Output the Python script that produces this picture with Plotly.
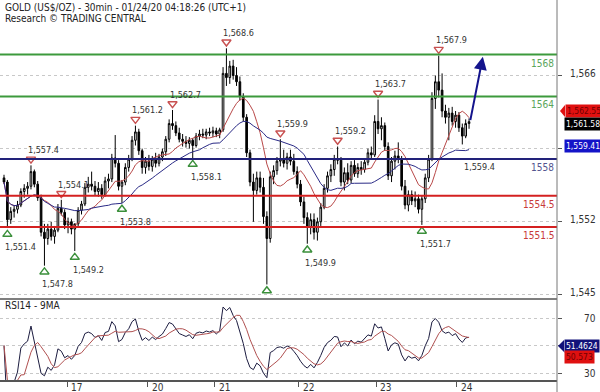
import plotly.graph_objects as go
import pandas as pd

# ---------------- data (hourly-style bars) ----------------
opens = [1556.2,1555.8,1552.2,1553.0,1553.2,1553.6,1554.9,1555.2,1555.4,1556.8,
         1555.6,1554.3,1551.0,1550.4,1551.3,1550.6,1551.2,1553.3,1552.9,1551.7,
         1552.0,1551.3,1551.8,1553.1,1553.7,1555.3,1555.6,1555.4,1554.9,1555.2,
         1554.6,1555.9,1556.1,1558.1,1557.6,1555.4,1555.8,1557.2,1558.0,1559.8,
         1560.6,1558.8,1557.2,1557.8,1557.3,1558.0,1557.6,1558.2,1558.7,1559.9,
         1561.4,1561.2,1560.5,1559.9,1559.7,1559.5,1559.8,1559.3,1560.2,1560.4,
         1560.3,1560.6,1560.5,1560.7,1560.4,1560.8,1566.2,1565.8,1566.9,1566.0,
         1565.4,1564.0,1562.0,1558.6,1555.8,1555.0,1556.2,1555.3,1552.5,1550.4,
         1556.3,1556.9,1557.8,1558.0,1557.6,1558.2,1557.8,1556.8,1555.6,1553.9,
         1552.4,1551.5,1552.2,1551.0,1552.0,1553.4,1555.2,1556.4,1557.0,1558.0,
         1557.9,1555.8,1556.7,1556.0,1557.4,1556.6,1557.2,1557.0,1557.7,1558.6,
         1558.4,1561.6,1560.9,1561.2,1559.2,1556.4,1557.8,1558.3,1558.0,1555.4,
         1553.6,1554.6,1554.0,1554.2,1553.2,1554.2,1556.2,1558.0,1563.8,1565.4,
         1564.6,1562.6,1562.0,1562.4,1561.6,1562.2,1561.0,1560.2,1561.4]
highs = [1556.5,1556.0,1553.4,1553.6,1554.0,1555.2,1555.6,1555.8,1557.4,1557.0,
         1555.9,1554.6,1551.8,1551.8,1552.0,1551.6,1553.7,1554.1,1553.2,1552.4,
         1552.3,1551.6,1553.4,1554.0,1555.7,1556.3,1556.8,1555.9,1555.8,1555.6,
         1556.3,1556.6,1558.5,1560.3,1557.9,1556.0,1557.6,1558.4,1560.2,1561.2,
         1560.9,1559.0,1558.2,1558.4,1558.3,1558.6,1558.5,1559.0,1560.2,1561.8,
         1562.7,1561.6,1561.0,1560.4,1560.2,1560.1,1560.0,1560.5,1560.8,1560.9,
         1560.9,1561.0,1561.1,1561.0,1561.0,1566.8,1568.6,1567.4,1567.5,1566.8,
         1565.9,1564.3,1562.3,1558.9,1556.6,1556.8,1556.8,1556.2,1553.0,1556.8,
         1557.4,1558.2,1559.9,1558.9,1558.6,1558.9,1558.5,1557.3,1556.0,1554.4,
         1552.9,1552.8,1552.8,1552.4,1553.8,1555.6,1556.8,1557.5,1558.4,1559.2,
         1558.2,1557.2,1557.6,1557.8,1557.9,1557.6,1557.8,1558.0,1559.0,1559.2,
         1562.2,1563.7,1562.0,1561.5,1559.6,1558.2,1558.8,1559.6,1558.3,1556.0,
         1555.0,1555.0,1554.9,1554.6,1554.5,1556.6,1558.4,1564.4,1566.0,1567.9,
         1566.2,1563.2,1562.9,1563.0,1562.6,1562.5,1561.4,1561.8,1561.9]
lows = [1555.6,1551.4,1551.8,1552.4,1552.8,1553.4,1554.3,1554.6,1555.1,1555.3,
        1554.0,1550.6,1547.8,1549.8,1550.2,1549.9,1551.0,1552.6,1551.3,1550.9,
        1550.8,1549.2,1551.5,1552.7,1553.5,1554.8,1555.0,1554.5,1554.4,1554.2,
        1554.4,1555.2,1555.8,1557.2,1555.0,1553.8,1555.5,1556.8,1557.8,1559.3,
        1558.4,1556.6,1556.6,1556.9,1556.8,1557.2,1557.3,1557.8,1558.3,1559.6,
        1560.8,1560.2,1559.6,1559.2,1559.1,1559.0,1558.1,1559.1,1559.8,1560.0,
        1559.9,1560.2,1560.1,1560.1,1560.0,1560.6,1565.0,1565.2,1565.6,1565.0,
        1563.6,1561.6,1558.2,1555.4,1552.0,1554.6,1554.8,1551.8,1546.0,1550.0,
        1555.6,1556.5,1557.3,1557.2,1557.0,1557.4,1556.5,1555.2,1553.5,1551.8,
        1549.9,1550.8,1550.3,1550.2,1551.6,1553.2,1554.8,1555.8,1556.4,1557.5,
        1555.4,1555.0,1555.6,1555.7,1556.3,1556.2,1556.5,1556.7,1557.4,1558.0,
        1558.2,1560.4,1559.8,1558.8,1556.0,1555.8,1557.0,1557.6,1555.0,1553.2,
        1553.0,1553.6,1553.4,1552.8,1551.7,1553.8,1555.8,1557.8,1562.8,1563.9,
        1562.0,1561.4,1559.8,1561.2,1561.0,1560.6,1559.4,1560.0,1560.9]
closes = [1555.8,1552.2,1553.0,1553.2,1553.6,1554.9,1555.2,1555.4,1556.8,1555.6,
          1554.3,1551.0,1550.4,1551.3,1550.6,1551.2,1553.3,1552.9,1551.7,1552.0,
          1551.3,1551.8,1553.1,1553.7,1555.3,1555.6,1555.4,1554.9,1555.2,1554.6,
          1555.9,1556.1,1558.1,1557.6,1555.4,1555.8,1557.2,1558.0,1559.8,1560.6,
          1558.8,1557.2,1557.8,1557.3,1558.0,1557.6,1558.2,1558.7,1559.9,1561.4,
          1561.2,1560.5,1559.9,1559.7,1559.5,1559.8,1559.3,1560.2,1560.4,1560.3,
          1560.6,1560.5,1560.7,1560.4,1560.8,1566.2,1565.8,1566.9,1566.0,1565.4,
          1564.0,1562.0,1558.6,1555.8,1555.0,1556.2,1555.3,1552.5,1550.4,1556.3,
          1556.9,1557.8,1558.0,1557.6,1558.2,1557.8,1556.8,1555.6,1553.9,1552.4,
          1551.5,1552.2,1551.0,1552.0,1553.4,1555.2,1556.4,1557.0,1558.0,1557.9,
          1555.8,1556.7,1556.0,1557.4,1556.6,1557.2,1557.0,1557.7,1558.6,1558.4,
          1561.6,1560.9,1561.2,1559.2,1556.4,1557.8,1558.3,1558.0,1555.4,1553.6,
          1554.6,1554.0,1554.2,1553.2,1554.2,1556.2,1558.0,1563.8,1565.4,1564.6,
          1562.6,1562.0,1562.4,1561.6,1562.2,1561.0,1560.2,1561.4,1561.58]

day_labels = ["17", "20", "21", "22", "23", "24"]
day_starts = [18.7, 42.7, 62.6, 87.5, 110.4, 134.4]

pivot_high_idx = [8, 17, 39, 50, 66, 82, 99, 111, 129]
pivot_high_txt = ["1,557.4", "1,554.1", "1,561.2", "1,562.7", "1,568.6", "1,559.9", "1,559.2", "1,563.7", "1,567.9"]
pivot_low_idx = [1, 12, 21, 35, 56, 78, 90, 124]
pivot_low_txt = ["1,551.4", "1,547.8", "1,549.2", "1,553.8", "1,558.1", "", "1,549.9", "1,551.7"]

level_values = [1568, 1564, 1558, 1554.5, 1551.5]
level_texts = ["1568", "1564", "1558", "1554.5", "1551.5"]
level_colors = ["#3c9a3c", "#3c9a3c", "#22227a", "#d42020", "#d42020"]
level_text_colors = ["#5aa55a", "#5aa55a", "#55558f", "#c83a3a", "#c83a3a"]

price_ticks = [1545, 1552, 1559, 1566]
price_tick_text = ["1,545", "1,552", "", "1,566"]
rsi_ticks = [30, 50, 70]
rsi_tick_text = ["30", "", "70"]

last_price_txt = "1,561.58"
red_ma_txt = "1,562.55"
blue_ma_txt = "1,559.41"
rsi_txt = "51.4624"
rsi_ma_txt = "50.573"

# ---------------- derived series ----------------
n = len(closes)
xs = list(range(n))
c = pd.Series(closes)
ma_fast = c.rolling(10, min_periods=1).mean()
ma_slow = c.rolling(25, min_periods=1).mean()
d = c.diff().fillna(0)
RSI_N = 14
up = d.clip(lower=0).ewm(alpha=1/RSI_N, adjust=True).mean()
dn = (-d.clip(upper=0)).ewm(alpha=1/RSI_N, adjust=True).mean()
rsi = (100 - 100 / (1 + up / dn.replace(0, 1e-9))).where(up + dn > 0, 50)
rsi_ma = rsi.rolling(6, min_periods=1).mean()

W, H = 600, 392
def px(xp):
    return xp / W
def py(yp):
    return 1 - yp / H

NARROW = "Liberation Sans Narrow, DejaVu Sans Condensed, Liberation Sans, Arial, sans-serif"

fig = go.Figure()
fig.add_trace(go.Candlestick(
    x=xs, open=opens, high=highs, low=lows, close=closes,
    increasing=dict(line=dict(color="black", width=1), fillcolor="white"),
    decreasing=dict(line=dict(color="black", width=1), fillcolor="black"),
    whiskerwidth=0, xaxis="x", yaxis="y", showlegend=False, hoverinfo="skip"))
fig.add_trace(go.Scatter(x=xs, y=ma_fast, mode="lines", line=dict(color="#b84848", width=1),
                         xaxis="x", yaxis="y", showlegend=False, hoverinfo="skip"))
fig.add_trace(go.Scatter(x=xs, y=ma_slow, mode="lines", line=dict(color="#2a2a86", width=1),
                         xaxis="x", yaxis="y", showlegend=False, hoverinfo="skip"))

# pivot markers
fig.add_trace(go.Scatter(x=pivot_high_idx, y=[highs[i] + 0.6 for i in pivot_high_idx], mode="markers",
                         marker=dict(symbol="triangle-down-open", size=8, color="#c85050", line=dict(width=1.4)),
                         xaxis="x", yaxis="y", showlegend=False, hoverinfo="skip"))
fig.add_trace(go.Scatter(x=pivot_low_idx, y=[lows[i] - 0.6 for i in pivot_low_idx], mode="markers",
                         marker=dict(symbol="triangle-up-open", size=8, color="#3a8f3a", line=dict(width=1.4)),
                         xaxis="x", yaxis="y", showlegend=False, hoverinfo="skip"))

# RSI
fig.add_trace(go.Scatter(x=xs, y=rsi, mode="lines", line=dict(color="#1c1c40", width=1),
                         xaxis="x", yaxis="y2", showlegend=False, hoverinfo="skip"))
fig.add_trace(go.Scatter(x=xs, y=rsi_ma, mode="lines", line=dict(color="#b05050", width=1),
                         xaxis="x", yaxis="y2", showlegend=False, hoverinfo="skip"))

shapes = []
for v, col in zip(level_values, level_colors):
    shapes.append(dict(type="line", xref="paper", yref="y", x0=0, x1=px(557), y0=v, y1=v,
                       line=dict(color=col, width=2), layer="above"))
# panel separator
shapes.append(dict(type="line", xref="paper", yref="paper", x0=0, x1=px(557), y0=py(299), y1=py(299),
                   line=dict(color="#555", width=1.5)))
# right axis line
shapes.append(dict(type="line", xref="paper", yref="paper", x0=px(557), x1=px(557), y0=py(392), y1=py(0),
                   line=dict(color="#777", width=1)))
# tag pointers
shapes.append(dict(type="path", xref="paper", yref="paper",
                   path=f"M {px(560)} {py(111)} L {px(565)} {py(105)} L {px(565)} {py(117)} Z",
                   fillcolor="#e01010", line=dict(width=0)))
shapes.append(dict(type="path", xref="paper", yref="paper",
                   path=f"M {px(558)} {py(346)} L {px(564)} {py(340)} L {px(564)} {py(352)} Z",
                   fillcolor="#12127a", line=dict(width=0)))

ann = []
ann.append(dict(text="GOLD (US$/OZ) - 30min - 01/24/20 04:18:26 (UTC+1)", x=px(3), y=py(7), xref="paper", yref="paper",
                xanchor="left", yanchor="middle", showarrow=False, font=dict(family=NARROW, size=10, color="#222")))
ann.append(dict(text="Research © TRADING CENTRAL", x=px(3), y=py(18), xref="paper", yref="paper",
                xanchor="left", yanchor="middle", showarrow=False, font=dict(family=NARROW, size=10, color="#222")))
ann.append(dict(text="RSI14 - 9MA", x=px(3), y=py(305), xref="paper", yref="paper",
                xanchor="left", yanchor="middle", showarrow=False, font=dict(family=NARROW, size=10, color="#222")))

for v, t, col in zip(level_values, level_texts, level_text_colors):
    ann.append(dict(text=t, x=px(556), y=v, xref="paper", yref="y", xanchor="right", yanchor="top",
                    yshift=-1, showarrow=False, font=dict(family=NARROW, size=10, color=col)))

for i, t in zip(pivot_high_idx, pivot_high_txt):
    ann.append(dict(text=t, x=i, y=highs[i] + 1.45, xref="x", yref="y", xanchor="left", yanchor="middle",
                    xshift=-5, showarrow=False, font=dict(family=NARROW, size=9, color="#333")))
for i, t in zip(pivot_low_idx, pivot_low_txt):
    if t:
        ann.append(dict(text=t, x=i, y=lows[i] - 1.8, xref="x", yref="y", xanchor="left", yanchor="middle",
                        xshift=-4, showarrow=False, font=dict(family=NARROW, size=9, color="#333")))
ann.append(dict(text="1,559.4", x=n - 3, y=1557.2, xref="x", yref="y", xanchor="left", yanchor="middle",
                xshift=0, showarrow=False, font=dict(family=NARROW, size=9, color="#333")))

for v, t in zip(price_ticks, price_tick_text):
    if t:
        ann.append(dict(text=t, x=px(598), y=v, xref="paper", yref="y", xanchor="right", yanchor="middle",
                        yshift=2, showarrow=False, font=dict(family=NARROW, size=10, color="#333")))
for v, t in zip(rsi_ticks, rsi_tick_text):
    if t:
        ann.append(dict(text=t, x=px(598), y=v, xref="paper", yref="y2", xanchor="right", yanchor="middle",
                        showarrow=False, font=dict(family=NARROW, size=10, color="#333")))
for xd, t in zip(day_starts, day_labels):
    ann.append(dict(text=t, x=xd, y=py(387), xref="x", yref="paper", xanchor="left", yanchor="middle",
                    xshift=2, showarrow=False, font=dict(family=NARROW, size=10, color="#333")))

# value tags
def tag(text, yp, xp, bg, fg):
    return dict(text=text, x=px(xp), y=py(yp), xref="paper", yref="paper", xanchor="left", yanchor="middle",
                showarrow=False, bgcolor=bg, borderpad=1, font=dict(family=NARROW, size=8.5, color=fg))
ann.append(tag(red_ma_txt, 111, 565, "#e01010", "#700000"))
ann.append(tag(last_price_txt, 124, 564, "#000000", "#ffffff"))
ann.append(tag(blue_ma_txt, 146, 564, "#1414c8", "#ffffff"))
ann.append(tag(rsi_txt, 346, 564, "#12127a", "#ffffff"))
ann.append(tag(rsi_ma_txt, 357, 564, "#e01010", "#700000"))

# forecast arrow
ann.append(dict(text="", x=142.1, y=1567.8, ax=n - 0.7, ay=closes[-1], xref="x", yref="y", axref="x", ayref="y",
                showarrow=True, arrowhead=2, arrowsize=1.3, arrowwidth=2, arrowcolor="#14148c"))

fig.update_layout(
    width=W, height=H, margin=dict(l=0, r=0, t=0, b=0),
    paper_bgcolor="white", plot_bgcolor="white",
    showlegend=False,
    xaxis=dict(domain=[0, px(557)], anchor="y2", range=[-1.19, 164.1], showgrid=False, zeroline=False,
               showline=True, linecolor="#555", linewidth=1.5, tickmode="array", tickvals=day_starts,
               ticks="outside", ticklen=5, tickcolor="#555", showticklabels=False,
               rangeslider=dict(visible=False), fixedrange=True),
    yaxis=dict(domain=[py(299), py(20)], anchor="x", side="right", range=[1544.61, 1571.31],
               tickmode="array", tickvals=price_ticks, showticklabels=False, ticks="outside", ticklen=4,
               tickcolor="#555", showgrid=True, gridcolor="#c8c8c8", griddash="dot", zeroline=False,
               showline=False),
    yaxis2=dict(domain=[py(380), py(299)], anchor="x", side="right", range=[24.91, 83.82],
                tickmode="array", tickvals=rsi_ticks, showticklabels=False, ticks="outside", ticklen=4,
                tickcolor="#555", showgrid=True, gridcolor="#c8c8c8", griddash="dot", zeroline=False,
                showline=False),
    shapes=shapes, annotations=ann,
)

fig.write_html("out.html")
